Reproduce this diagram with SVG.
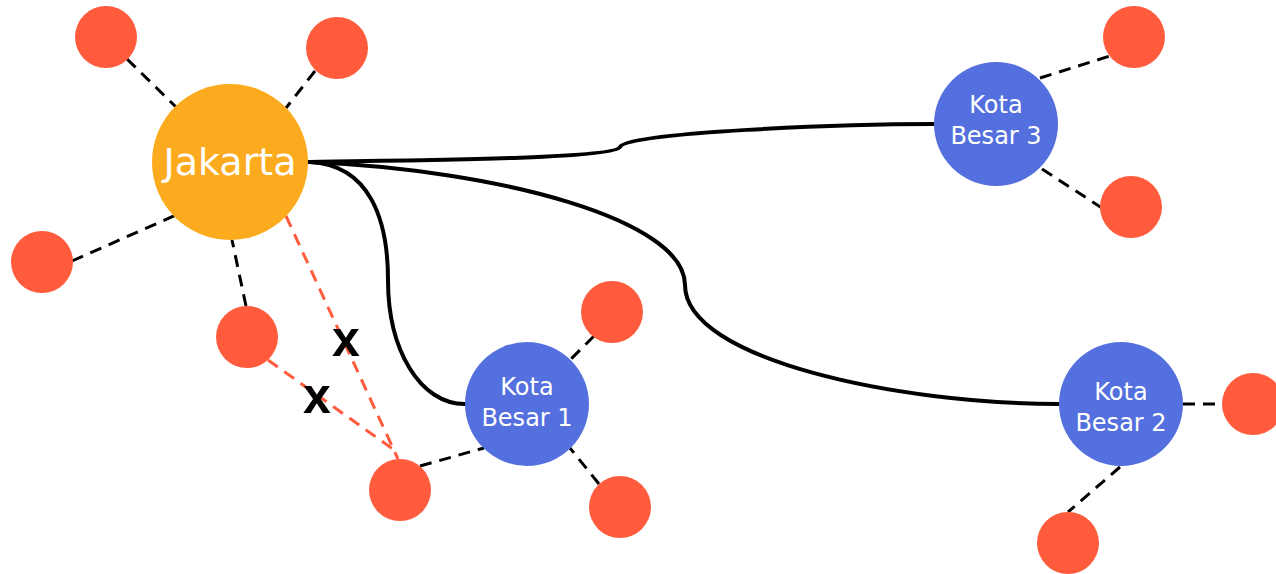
<svg xmlns="http://www.w3.org/2000/svg" width="1276" height="574" viewBox="0 0 1276 574">
<style>
.bg{fill:#ffffff}
.leaf{fill:#FF5B3C}
.hub{fill:#FDAB1E}
.city{fill:#5470DE}
.solid{fill:none;stroke:#000;stroke-width:4;stroke-linecap:round}
.dash{fill:none;stroke:#000;stroke-width:3;stroke-dasharray:12 8}
.rdash{fill:none;stroke:#FF5B3C;stroke-width:3;stroke-dasharray:12 8}
.lbl{font-family:"DejaVu Sans","Liberation Sans",sans-serif;fill:#fff;text-anchor:middle}
.xm{font-family:"Liberation Sans",Arial,sans-serif;font-weight:bold;font-size:50px;fill:#000;text-anchor:middle}
</style>
<rect class="bg" width="1276" height="574"/>
<g id="connectors">
<path class="solid" d="M308,162 C450,160 615,158 620,147 C625,132 850,124 934,124"/>
<path class="solid" d="M310,162 C370,165 388,220 388,280 C388,350 420,404 465,404"/>
<path class="solid" d="M310,162 C500,170 685,220 685,285 C685,360 900,404 1059,404"/>
<line class="dash" x1="127" y1="59" x2="176" y2="107"/>
<line class="dash" x1="315" y1="71" x2="286" y2="108"/>
<line class="dash" x1="72" y1="261" x2="176" y2="215"/>
<line class="dash" x1="246" y1="306" x2="232" y2="240"/>
<line class="dash" x1="420" y1="466" x2="484" y2="448"/>
<line class="dash" x1="594" y1="336" x2="570" y2="360"/>
<line class="dash" x1="599" y1="484" x2="570" y2="448"/>
<line class="dash" x1="1040" y1="78" x2="1110" y2="56"/>
<line class="dash" x1="1042" y1="169" x2="1105" y2="210"/>
<line class="dash" x1="1183" y1="404" x2="1222" y2="404"/>
<line class="dash" x1="1120" y1="467" x2="1068" y2="512"/>
<line class="rdash" x1="286" y1="216" x2="398" y2="459"/>
<line class="rdash" x1="268" y1="360" x2="397" y2="452"/>
</g>
<g id="n-jakarta"><circle class="hub" cx="230" cy="162" r="78"/><text class="lbl" x="230" y="175" font-size="38">Jakarta</text></g>
<g id="n-kb1"><circle class="city" cx="527" cy="404" r="62"/><text class="lbl" x="527" y="395" font-size="24">Kota</text><text class="lbl" x="527" y="426" font-size="24">Besar 1</text></g>
<g id="n-kb2"><circle class="city" cx="1121" cy="404" r="62"/><text class="lbl" x="1121" y="400" font-size="24">Kota</text><text class="lbl" x="1121" y="431" font-size="24">Besar 2</text></g>
<g id="n-kb3"><circle class="city" cx="996" cy="124" r="62"/><text class="lbl" x="996" y="113" font-size="24">Kota</text><text class="lbl" x="996" y="144" font-size="24">Besar 3</text></g>
<g id="l1"><circle class="leaf" cx="106" cy="37" r="31"/></g>
<g id="l2"><circle class="leaf" cx="337" cy="48" r="31"/></g>
<g id="l3"><circle class="leaf" cx="42" cy="262" r="31"/></g>
<g id="l4"><circle class="leaf" cx="247" cy="337" r="31"/></g>
<g id="l5"><circle class="leaf" cx="400" cy="490" r="31"/></g>
<g id="l6"><circle class="leaf" cx="612" cy="312" r="31"/></g>
<g id="l7"><circle class="leaf" cx="620" cy="507" r="31"/></g>
<g id="l8"><circle class="leaf" cx="1134" cy="37" r="31"/></g>
<g id="l9"><circle class="leaf" cx="1131" cy="207" r="31"/></g>
<g id="l10"><circle class="leaf" cx="1253" cy="404" r="31"/></g>
<g id="l11"><circle class="leaf" cx="1068" cy="543" r="31"/></g>
<g id="marks"><text class="xm" x="346" y="356">x</text><text class="xm" x="317" y="413">x</text></g>
</svg>
